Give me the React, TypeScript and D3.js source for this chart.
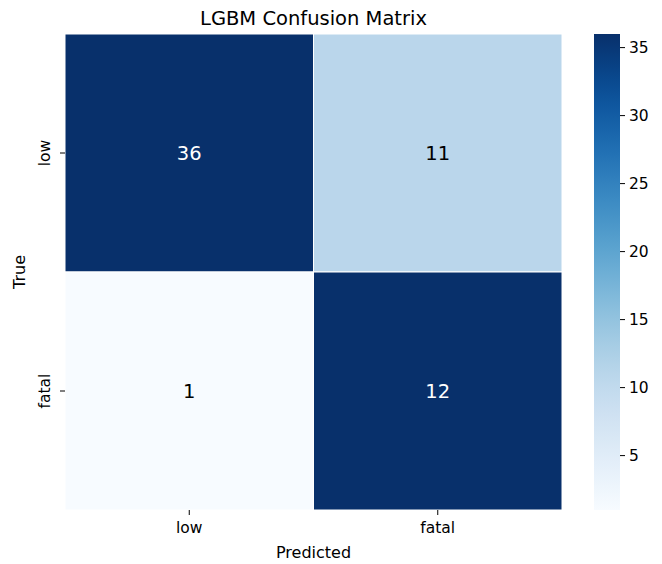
import React from "react";
import * as d3 from "d3";

// Confusion matrix counts (rows = true class, columns = predicted class)
const classes = ["low", "fatal"];
const counts = [
  [36, 11],
  [1, 12],
];
// Colour intensity per cell, in colour-bar units
const shade = [
  [36, 11],
  [1, 36],
];
const colorTicks = [5, 10, 15, 20, 25, 30, 35];
const colorMin = 1;
const colorMax = 36;

const W = 662;
const H = 564;
const font = "DejaVu Sans, sans-serif";

export default function App() {
  const left = 65;
  const right = 562;
  const top = 34;
  const bottom = 510;

  const x = d3.scaleBand<string>().domain(classes).range([left, right]);
  const y = d3.scaleBand<string>().domain(classes).range([top, bottom]);
  const color = d3.scaleSequential(d3.interpolateBlues).domain([colorMin, colorMax]);

  const cbX = 594;
  const cbW = 26;
  const cbY = d3.scaleLinear().domain([colorMin, colorMax]).range([bottom, top]);
  const stops = d3.range(0, 1.0001, 0.05);

  const cells: { r: number; c: number }[] = [];
  counts.forEach((row, r) => row.forEach((_, c) => cells.push({ r, c })));

  const textColor = (v: number) => {
    const col = d3.hsl(color(v));
    return col.l < 0.55 ? "#ffffff" : "#000000";
  };

  const tickSize = 15.5;

  return (
    <svg
      width={W}
      height={H}
      style={{ position: "absolute", left: 0, top: 0, background: "#fff" }}
      fontFamily={font}
    >
      <defs>
        <linearGradient id="cbar" x1="0" y1="1" x2="0" y2="0">
          {stops.map((t) => (
            <stop
              key={t}
              offset={`${t * 100}%`}
              stopColor={d3.interpolateBlues(t)}
            />
          ))}
        </linearGradient>
      </defs>

      <text x={(left + right) / 2} y={25} textAnchor="middle" fontSize={19.5} fill="#000">
        LGBM Confusion Matrix
      </text>

      {cells.map(({ r, c }) => (
        <g key={`${r}-${c}`}>
          <rect
            x={x(classes[c])!}
            y={y(classes[r])!}
            width={x.bandwidth()}
            height={y.bandwidth()}
            fill={color(shade[r][c])}
            stroke="#ffffff"
            strokeWidth={1}
          />
          <text
            x={x(classes[c])! + x.bandwidth() / 2}
            y={y(classes[r])! + y.bandwidth() / 2}
            textAnchor="middle"
            dominantBaseline="central"
            fontSize={19.5}
            fill={textColor(shade[r][c])}
          >
            {counts[r][c]}
          </text>
        </g>
      ))}

      {/* x axis */}
      {classes.map((cl) => {
        const cx = x(cl)! + x.bandwidth() / 2;
        return (
          <g key={`xt-${cl}`}>
            <line x1={cx} x2={cx} y1={bottom} y2={bottom + 5} stroke="#000" strokeWidth={1} />
            <text x={cx} y={533} textAnchor="middle" fontSize={tickSize} fill="#000">
              {cl}
            </text>
          </g>
        );
      })}
      <text x={(left + right) / 2} y={558} textAnchor="middle" fontSize={16} fill="#000">
        Predicted
      </text>

      {/* y axis */}
      {classes.map((cl) => {
        const cy = y(cl)! + y.bandwidth() / 2;
        return (
          <g key={`yt-${cl}`}>
            <line x1={left - 5} x2={left} y1={cy} y2={cy} stroke="#000" strokeWidth={1} />
            <text
              transform={`translate(50,${cy}) rotate(-90)`}
              textAnchor="middle"
              fontSize={tickSize}
              fill="#000"
            >
              {cl}
            </text>
          </g>
        );
      })}
      <text
        transform={`translate(25,${(top + bottom) / 2}) rotate(-90)`}
        textAnchor="middle"
        fontSize={16}
        fill="#000"
      >
        True
      </text>

      {/* colour bar */}
      <rect x={cbX} y={top} width={cbW} height={bottom - top} fill="url(#cbar)" />
      {colorTicks.map((t) => (
        <g key={`ct-${t}`}>
          <line x1={cbX + cbW} x2={cbX + cbW + 5} y1={cbY(t)} y2={cbY(t)} stroke="#000" strokeWidth={1} />
          <text x={629} y={cbY(t)} dominantBaseline="central" fontSize={tickSize} fill="#000">
            {t}
          </text>
        </g>
      ))}
    </svg>
  );
}
